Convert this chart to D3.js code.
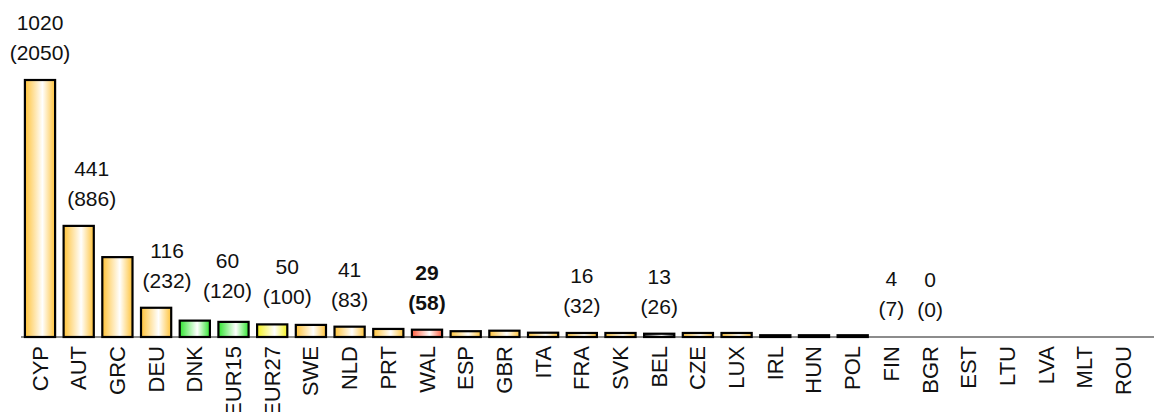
<!DOCTYPE html>
<html>
<head>
<meta charset="utf-8">
<script src="https://cdn.jsdelivr.net/npm/d3@7"></script>
<style>
  html, body { margin: 0; padding: 0; background: #fff; }
  svg { display: block; }
  text { font-family: "Liberation Sans", Arial, sans-serif; fill: #111; }
</style>
</head>
<body>
<svg id="chart" width="1154" height="412"></svg>
<script>
// Country codes, in plotted order
const categories = ["CYP", "AUT", "GRC", "DEU", "DNK", "EUR15", "EUR27", "SWE", "NLD", "PRT",
  "WAL", "ESP", "GBR", "ITA", "FRA", "SVK", "BEL", "CZE", "LUX", "IRL",
  "HUN", "POL", "FIN", "BGR", "EST", "LTU", "LVA", "MLT", "ROU"];

// Bar values (null = no data)
const values = [1020, 441, 317, 116, 65, 60, 50, 48, 41, 32,
  29, 23, 25, 17, 16, 16, 13, 16, 16, 7,
  7, 7, 4, 0, null, null, null, null, null];

// Second figure shown in brackets under the value (null = not labelled)
const bracketValues = [2050, 886, null, 232, null, 120, 100, null, 83, null,
  58, null, null, null, 32, null, 26, null, null, null,
  null, null, 7, 0, null, null, null, null, null];

// Series highlighted in bold
const highlighted = ["WAL"];

// Fill colour family per category
const palette = {
  orange: "#FFC33A",
  green: "#2FE52F",
  yellow: "#F4F11E",
  red: "#FF5E3E",
  grey: "#333333",
  black: "#000000"
};
const colourOf = {
  DNK: "green", EUR15: "green", EUR27: "yellow", WAL: "red", BEL: "grey",
  IRL: "black", HUN: "black", POL: "black", FIN: "none"
};
// Small horizontal/vertical nudges so neighbouring labels do not collide
const labelNudge = { AUT: [13, 0], DEU: [11, 0], EUR15: [-6, -4], EUR27: [15, 0] };

const data = categories.map((c, i) => ({ cat: c, value: values[i], bracket: bracketValues[i] }));

const svg = d3.select("#chart");
const baseY = 337;

const x = d3.scaleBand().domain(categories).range([16.4, 1147.2]).padding(0.22);
const y = d3.scaleLinear().domain([0, 1020]).range([baseY, 80]);

// Horizontal gradients: colour at the edges, white towards the middle
const defs = svg.append("defs");
Object.entries(palette).forEach(([name, col]) => {
  const g = defs.append("linearGradient").attr("id", "grad-" + name)
    .attr("x1", "0%").attr("x2", "100%").attr("y1", "0%").attr("y2", "0%");
  if (name === "black") {
    g.append("stop").attr("offset", "0%").attr("stop-color", col);
    g.append("stop").attr("offset", "100%").attr("stop-color", col);
  } else {
    g.append("stop").attr("offset", "0%").attr("stop-color", col);
    g.append("stop").attr("offset", "58%").attr("stop-color", "#ffffff");
    g.append("stop").attr("offset", "100%").attr("stop-color", col);
  }
});

// Baseline axis
const axis = svg.append("g").attr("transform", `translate(0,${baseY})`)
  .call(d3.axisBottom(x).tickSize(0).tickPadding(0).tickFormat(""));
axis.select(".domain").remove();
svg.append("line")
  .attr("x1", 21).attr("x2", 1154).attr("y1", baseY).attr("y2", baseY)
  .attr("stroke", "#666").attr("stroke-width", 1.5);

// Bars
svg.append("g").selectAll("rect")
  .data(data.filter(d => d.value !== null && d.value > 0))
  .join("rect")
  .attr("x", d => x(d.cat))
  .attr("width", x.bandwidth())
  .attr("y", d => y(d.value))
  .attr("height", d => baseY - y(d.value))
  .attr("fill", d => {
    const k = colourOf[d.cat] || "orange";
    return k === "none" ? "none" : `url(#grad-${k})`;
  })
  .attr("stroke", d => colourOf[d.cat] === "none" ? "none" : "#000")
  .attr("stroke-width", 2.2);

// Value labels: value on the first line, bracketed figure below
const lbl = svg.append("g").selectAll("g")
  .data(data.filter(d => d.bracket !== null))
  .join("g")
  .attr("transform", d => {
    const n = labelNudge[d.cat] || [0, 0];
    return `translate(${x(d.cat) + x.bandwidth() / 2 + n[0]},${y(d.value) + n[1]})`;
  });
lbl.append("text")
  .attr("text-anchor", "middle").attr("y", -50)
  .attr("font-size", 21)
  .attr("font-weight", d => highlighted.includes(d.cat) ? "bold" : "normal")
  .text(d => d.value);
lbl.append("text")
  .attr("text-anchor", "middle").attr("y", -20)
  .attr("font-size", 21)
  .attr("font-weight", d => highlighted.includes(d.cat) ? "bold" : "normal")
  .text(d => `(${d.bracket})`);

// Category labels, rotated
svg.append("g").selectAll("text")
  .data(categories)
  .join("text")
  .attr("transform", c => `translate(${x(c) + x.bandwidth() / 2},${baseY + 9}) rotate(-90)`)
  .attr("text-anchor", "end")
  .attr("dominant-baseline", "central")
  .attr("font-size", 22)
  .text(c => c);
</script>
</body>
</html>
